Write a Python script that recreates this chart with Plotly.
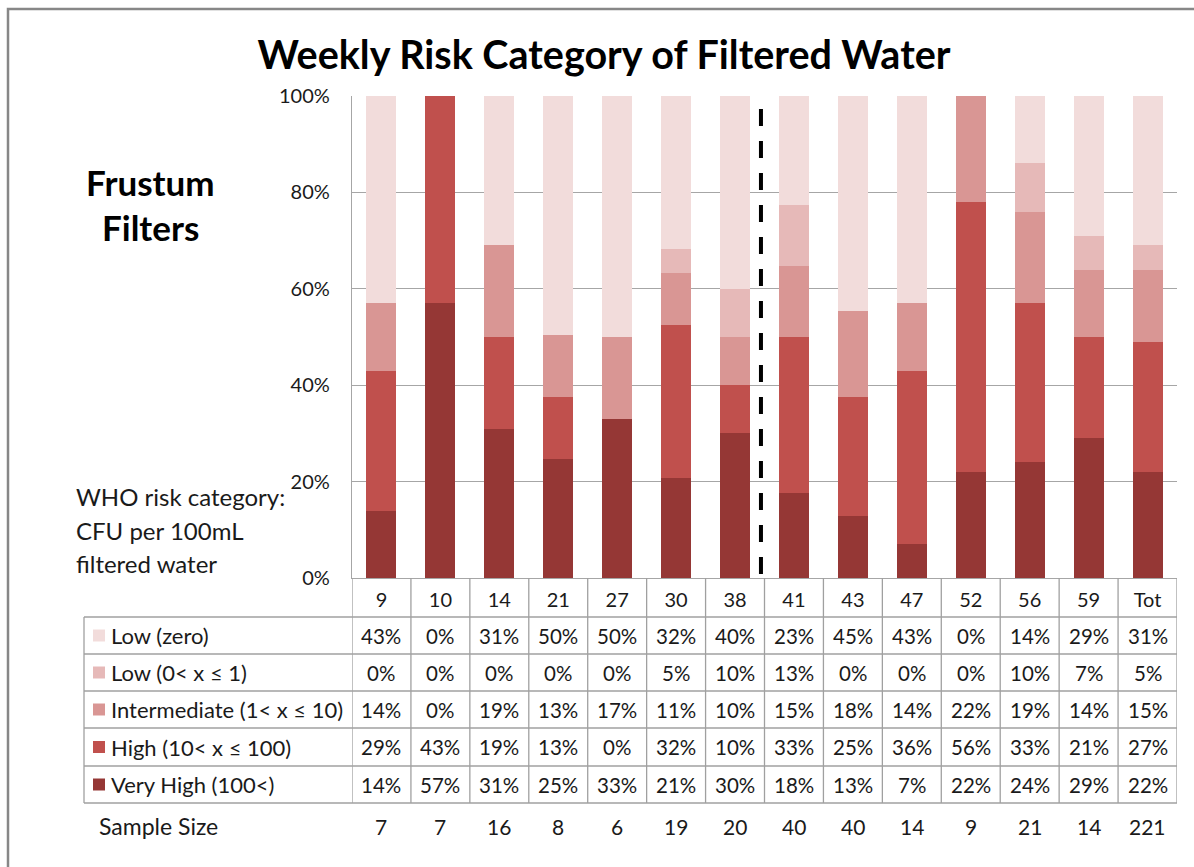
import plotly.graph_objects as go

weeks = ["9", "10", "14", "21", "27", "30", "38", "41", "43", "47", "52", "56", "59", "Tot"]
low_zero = [43, 0, 31, 50, 50, 32, 40, 23, 45, 43, 0, 14, 29, 31]
low_0_1 = [0, 0, 0, 0, 0, 5, 10, 13, 0, 0, 0, 10, 7, 5]
intermediate = [14, 0, 19, 13, 17, 11, 10, 15, 18, 14, 22, 19, 14, 15]
high = [29, 43, 19, 13, 0, 32, 10, 33, 25, 36, 56, 33, 21, 27]
very_high = [14, 57, 31, 25, 33, 21, 30, 18, 13, 7, 22, 24, 29, 22]
sample_size = [7, 7, 16, 8, 6, 19, 20, 40, 40, 14, 9, 21, 14, 221]

series_names = ["Low (zero)", "Low (0< x \u2264 1)", "Intermediate (1< x \u2264 10)",
                "High (10< x \u2264 100)", "Very High (100<)"]
series_values = [low_zero, low_0_1, intermediate, high, very_high]
series_colors = ["#F2DCDB", "#E6B9B8", "#D99694", "#C0504D", "#953735"]

FONT = "Lato, Carlito, sans-serif"
W, H = 1194, 867
L, R, T, B = 352, 1177, 96, 578
GRID = "#A6A6A6"
TLINE = "#A0A0A0"
TXT = "#1a1a1a"


def py(y):
    return (B - y) / (B - T)


def px(x):
    return (x - L) / (R - L)


fig = go.Figure()
# stack bottom to top: Very High ... Low (zero)
for name, vals, col in reversed(list(zip(series_names, series_values, series_colors))):
    fig.add_trace(go.Bar(x=weeks, y=vals, name=name, marker=dict(color=col, line=dict(width=0)),
                         showlegend=False))

shapes = []
annotations = []

# outer chart border (right and bottom edges fall outside the picture)
shapes.append(dict(type="rect", xref="paper", yref="paper", x0=px(8), x1=px(1230),
                   y0=py(9), y1=py(900), line=dict(color="#878787", width=2.5)))

# dashed separator between week 38 and 41
shapes.append(dict(type="line", xref="x", yref="paper", x0=6.44, x1=6.44, y0=py(109), y1=0,
                   line=dict(color="black", width=4, dash="17px,15px")))

# data table geometry
row_edges = [617, 654, 691, 728, 766, 803]
for i in range(len(weeks) + 1):
    shapes.append(dict(type="line", xref="x", yref="paper", x0=i - 0.5, x1=i - 0.5,
                       y0=py(B), y1=py(row_edges[-1]), line=dict(color=TLINE, width=1.3)))
for yy in row_edges:
    shapes.append(dict(type="line", xref="paper", yref="paper", x0=px(84), x1=1,
                       y0=py(yy), y1=py(yy), line=dict(color=TLINE, width=1.3)))
shapes.append(dict(type="line", xref="paper", yref="paper", x0=px(84), x1=px(84),
                   y0=py(row_edges[0]), y1=py(row_edges[-1]), line=dict(color=TLINE, width=1.3)))

# table rows: legend key + label + values
for r, (name, vals, col) in enumerate(zip(series_names, series_values, series_colors)):
    yc = (row_edges[r] + row_edges[r + 1]) / 2
    shapes.append(dict(type="rect", xref="paper", yref="paper", x0=px(93), x1=px(105),
                       y0=py(yc + 6), y1=py(yc - 6), fillcolor=col, line=dict(width=0)))
    annotations.append(dict(xref="paper", yref="paper", x=px(109), y=py(yc), text=name,
                            showarrow=False, xanchor="left", yanchor="middle",
                            font=dict(family=FONT, size=22, color=TXT)))
    for i, v in enumerate(vals):
        annotations.append(dict(xref="x", yref="paper", x=i, y=py(yc), text=f"{v}%",
                                showarrow=False, xanchor="center", yanchor="middle",
                                font=dict(family=FONT, size=20.5, color=TXT)))

# sample size row
annotations.append(dict(xref="paper", yref="paper", x=px(97), y=py(826), text="Sample Size",
                        showarrow=False, xanchor="left", yanchor="middle",
                        font=dict(family=FONT, size=23, color=TXT)))
for i, n in enumerate(sample_size):
    annotations.append(dict(xref="x", yref="paper", x=i, y=py(826), text=str(n),
                            showarrow=False, xanchor="center", yanchor="middle",
                            font=dict(family=FONT, size=21, color=TXT)))

# side labels
annotations.append(dict(xref="paper", yref="paper", x=px(150), y=py(182), text="<b>Frustum</b>",
                        showarrow=False, xanchor="center", yanchor="middle",
                        font=dict(family=FONT, size=35, color="black")))
annotations.append(dict(xref="paper", yref="paper", x=px(150), y=py(227), text="<b>Filters</b>",
                        showarrow=False, xanchor="center", yanchor="middle",
                        font=dict(family=FONT, size=35, color="black")))
for txt, yy in [("WHO risk category:", 497), ("CFU per 100mL", 530), ("filtered water", 563)]:
    annotations.append(dict(xref="paper", yref="paper", x=px(74), y=py(yy), text=txt,
                            showarrow=False, xanchor="left", yanchor="middle",
                            font=dict(family=FONT, size=24, color=TXT)))

fig.update_layout(
    width=W, height=H,
    margin=dict(l=L, r=W - R, t=T, b=H - B),
    paper_bgcolor="white", plot_bgcolor="white",
    barmode="stack", barnorm="percent", bargap=0.49,
    title=dict(text="<b>Weekly Risk Category of Filtered Water</b>", x=604 / W, xanchor="center",
               y=1 - 55 / H, yanchor="middle", font=dict(family=FONT, size=39.5, color="black")),
    font=dict(family=FONT, color=TXT),
    shapes=shapes, annotations=annotations,
    xaxis=dict(type="category", range=[-0.5, len(weeks) - 0.5], showgrid=False,
               showline=True, linecolor=GRID, linewidth=1.3, ticks="",
               tickfont=dict(family=FONT, size=20, color=TXT), ticklabelstandoff=4),
    yaxis=dict(range=[0, 100], tickvals=[0, 20, 40, 60, 80, 100],
               ticktext=["0%", "20%", "40%", "60%", "80%", "100%"],
               showgrid=True, gridcolor=GRID, gridwidth=1.3, zeroline=False,
               showline=True, linecolor=GRID, linewidth=1.3, ticks="",
               tickfont=dict(family=FONT, size=20, color=TXT), ticklabelstandoff=17),
)

fig.write_html("out.html", config={"displayModeBar": False},
               post_script="document.body.style.margin='0px';")
